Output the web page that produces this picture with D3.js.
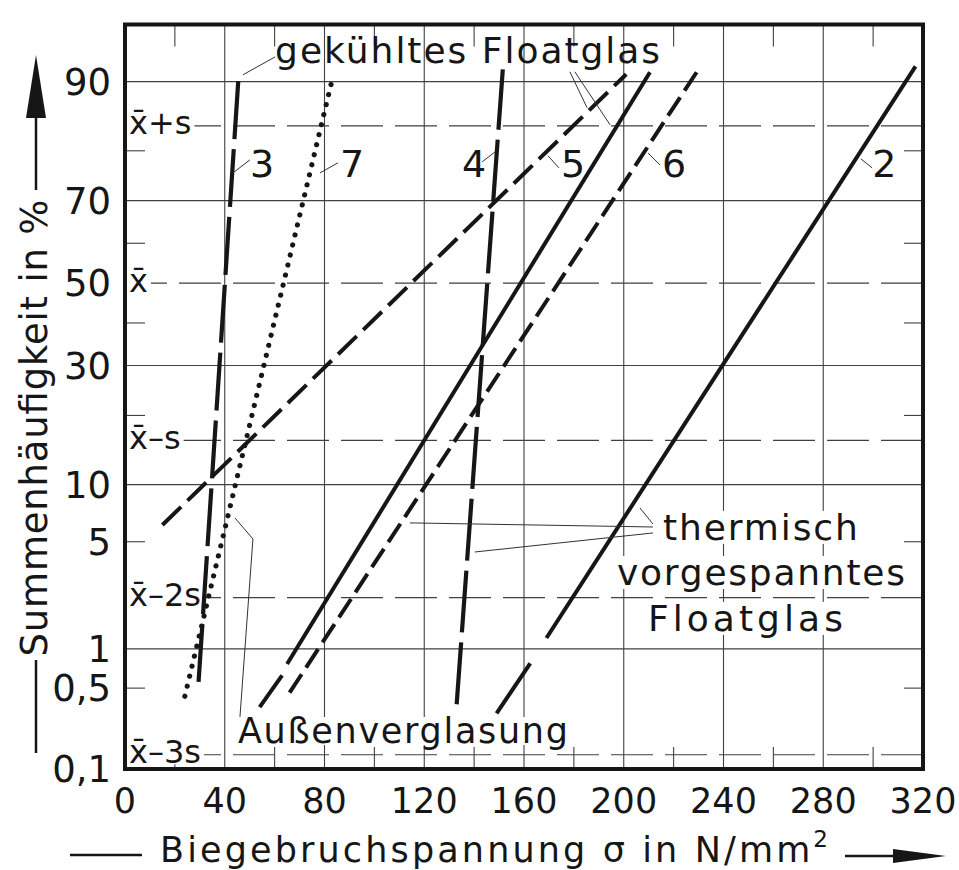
<!DOCTYPE html>
<html><head><meta charset="utf-8">
<script src="https://cdn.jsdelivr.net/npm/d3@7"></script>
<style>
html,body{margin:0;padding:0;background:#fff;}
svg{display:block;font-family:"DejaVu Sans",sans-serif;}
</style></head><body>
<svg id="chart" width="959" height="870"></svg>
<script>
// Bending strength of float glass on normal probability paper

// ---- axis data ----
const xTicks = [0, 40, 80, 120, 160, 200, 240, 280, 320];
const xMinorTicks = [20, 60, 100, 140, 180, 220, 260, 300];
const pctGridLines = [90, 70, 30, 10, 1];
const pctTickValues = [90, 70, 50, 30, 10, 5, 1, 0.5, 0.1];
const pctTickLabels = ["90", "70", "50", "30", "10", "5", "1", "0,5", "0,1"];
const pctMinorTicks = [80, 60, 40, 20, 5, 0.5];
const sigmaSteps = [1, 0, -1, -2, -3];
const sigmaLabels = ["x̄+s", "x̄", "x̄–s", "x̄–2s", "x̄–3s"];

// ---- series: segments of [σ in N/mm², cumulative frequency in %] ----
const curve1 = [[[54, 0.35], [63, 0.63]], [[65, 0.77], [210.5, 91.0]]];
const curve2 = [[[149, 0.31], [162.5, 0.78]], [[169, 1.2], [317, 91.6]]];
const curve3 = [[[29.5, 0.56], [45.5, 90.4]]];
const curve4 = [[[133, 0.37], [151.5, 91.3]]];
const curve5 = [[[15, 6.2], [201, 90.8]]];
const curve6 = [[[66, 0.46], [230.5, 91.5]]];
const curve7 = [[[24, 0.43], [83.5, 90.7]]];
const curveNames = ["1", "2", "3", "4", "5", "6", "7"];
const curveData = [curve1, curve2, curve3, curve4, curve5, curve6, curve7];

// line styles per curve
const curveStyle = {
  "1": {dash: null, w: 4},
  "2": {dash: null, w: 4},
  "3": {dash: "58 10", w: 4.2},
  "4": {dash: "62 10", w: 4.2},
  "5": {dash: "26 9", w: 4},
  "6": {dash: "22 8", w: 4},
  "7": {dash: "0.01 10.3", w: 5.2, cap: "round"}
};

// inverse standard normal CDF (Acklam)
function probit(p) {
  const a = [-3.969683028665376e+01, 2.209460984245205e+02, -2.759285104469687e+02, 1.383577518672690e+02, -3.066479806614716e+01, 2.506628277459239e+00];
  const b = [-5.447609879822406e+01, 1.615858494517808e+02, -1.556989798598866e+02, 6.680131188771972e+01, -1.328068155288572e+01];
  const c = [-7.784894002430293e-03, -3.223964580411365e-01, -2.400758277161838e+00, -2.549671324953608e+00, 4.374664141464968e+00, 2.938163982698783e+00];
  const d = [7.784695709041462e-03, 3.224671290700398e-01, 2.445134137142996e+00, 3.754408661907416e+00];
  const pl = 0.02425, ph = 1 - pl;
  let q, r;
  if (p < pl) { q = Math.sqrt(-2 * Math.log(p)); return (((((c[0]*q+c[1])*q+c[2])*q+c[3])*q+c[4])*q+c[5]) / ((((d[0]*q+d[1])*q+d[2])*q+d[3])*q+1); }
  if (p <= ph) { q = p - 0.5; r = q*q; return (((((a[0]*r+a[1])*r+a[2])*r+a[3])*r+a[4])*r+a[5])*q / (((((b[0]*r+b[1])*r+b[2])*r+b[3])*r+b[4])*r+1); }
  q = Math.sqrt(-2 * Math.log(1 - p));
  return -(((((c[0]*q+c[1])*q+c[2])*q+c[3])*q+c[4])*q+c[5]) / ((((d[0]*q+d[1])*q+d[2])*q+d[3])*q+1);
}

// ---- scales ----
const pL = 125, pR = 923, pT = 24.5, pB = 769;
const x = d3.scaleLinear().domain([0, 320]).range([pL, pR]);
const z = d3.scaleLinear().domain([probit(0.001), probit(0.95)]).range([pB, pT]); // in units of s
const y = p => z(probit(p / 100));

const ink = "#161616", gridInk = "#404040";
const svg = d3.select("#chart");
svg.append("rect").attr("width", 959).attr("height", 870).attr("fill", "#fff");

// ---- grid ----
const grid = svg.append("g").attr("stroke", gridInk).attr("stroke-width", 1.1);
grid.selectAll("line.v").data(xTicks.filter(v => v > 0 && v < 320)).join("line").attr("class", "v")
  .attr("x1", d => x(d)).attr("x2", d => x(d)).attr("y1", pT).attr("y2", pB);
grid.selectAll("line.h").data(pctGridLines).join("line").attr("class", "h")
  .attr("x1", pL).attr("x2", pR).attr("y1", d => y(d)).attr("y2", d => y(d));
grid.selectAll("line.s").data(sigmaSteps).join("line").attr("class", "s")
  .attr("x1", pL).attr("x2", pR).attr("y1", d => z(d)).attr("y2", d => z(d))
  .attr("stroke-dasharray", "42 12");
// minor ticks
grid.selectAll("line.tt").data(xMinorTicks).join("line").attr("class", "tt")
  .attr("x1", d => x(d)).attr("x2", d => x(d)).attr("y1", pT).attr("y2", pT + 22);
grid.selectAll("line.tb").data(xMinorTicks).join("line").attr("class", "tb")
  .attr("x1", d => x(d)).attr("x2", d => x(d)).attr("y1", pB - 22).attr("y2", pB);
grid.selectAll("line.tl").data(pctMinorTicks).join("line").attr("class", "tl")
  .attr("x1", pL).attr("x2", pL + 20).attr("y1", d => y(d)).attr("y2", d => y(d));
grid.selectAll("line.tr").data(pctMinorTicks).join("line").attr("class", "tr")
  .attr("x1", pR - 19).attr("x2", pR).attr("y1", d => y(d)).attr("y2", d => y(d));

// text helper with optional white backing box
function label(parent, txt, px, py, opts = {}) {
  const t = parent.append("text").attr("x", px).attr("y", py).text(txt)
    .attr("fill", ink).attr("font-size", opts.size || 34)
    .attr("text-anchor", opts.anchor || "start");
  if (opts.len) t.attr("textLength", opts.len).attr("lengthAdjust", opts.adjust || "spacing");
  if (opts.box) {
    const bb = t.node().getBBox();
    const pad = opts.pad || [2, 0];
    parent.insert("rect", () => t.node())
      .attr("x", bb.x - pad[0]).attr("y", bb.y + pad[1]).attr("width", bb.width + 2 * pad[0])
      .attr("height", bb.height - 2 * pad[1]).attr("fill", "#fff");
  }
  return t;
}

// ---- sigma labels inside plot ----
const sigLayer = svg.append("g");
sigmaSteps.forEach((k, i) => {
  label(sigLayer, sigmaLabels[i], pL + 4, z(k) + 8.5, {size: 32, box: true, pad: [3, 7]});
});

// ---- annotation boxes (drawn under the curves) ----
const annoBack = svg.append("g");
// anchors given as [σ, s-units]
label(annoBack, "thermisch", x(215.7), z(-1.633), {size: 36, len: 195, box: true, pad: [4, 4]});
label(annoBack, "vorgespanntes", x(197.3), z(-1.92), {size: 36, len: 288, box: true, pad: [4, 4]});
label(annoBack, "Floatglas", x(209.7), z(-2.212), {size: 36, len: 195, box: true, pad: [4, 4]});
label(annoBack, "Außenverglasung", x(45.3), z(-2.925), {size: 35, len: 330, box: true, pad: [3, 6]});

// ---- curves ----
const line = d3.line().x(d => x(d[0])).y(d => y(d[1]));
const curves = svg.append("g").attr("fill", "none").attr("stroke", ink);
curveNames.forEach((name, i) => {
  const st = curveStyle[name];
  curves.selectAll(null).data(curveData[i]).join("path")
    .attr("d", line)
    .attr("stroke-width", st.w)
    .attr("stroke-dasharray", st.dash)
    .attr("stroke-linecap", st.cap || "butt");
});

// ---- leader lines, anchored in [σ, s-units] ----
const leaders = [
  [[43.3, 0.701], [50.1, 0.784]],
  [[78.2, 0.701], [85.4, 0.765]],
  [[143.2, 0.771], [148.4, 0.835]],
  [[169.6, 0.810], [174.0, 0.733]],
  [[209.7, 0.828], [214.5, 0.752]],
  [[295.1, 0.790], [299.6, 0.733]],
  [[47.3, 1.325], [60.2, 1.439]],
  [[178.4, 1.344], [185.3, 1.115]],
  [[180.4, 1.344], [194.5, 1.007]],
  [[211.7, -1.532], [206.5, -1.430]],
  [[211.7, -1.551], [114.3, -1.525]],
  [[211.7, -1.589], [140.3, -1.710]],
  [[46.1, -2.759], [51.3, -1.627], [44.1, -1.494]]
];
const leaderLine = d3.line().x(d => x(d[0])).y(d => z(d[1]));
svg.append("g").attr("fill", "none").attr("stroke", "#333").attr("stroke-width", 1)
  .selectAll("path").data(leaders).join("path").attr("d", leaderLine);

// ---- curve numbers ----
const nums = svg.append("g");
[["3", 50.1], ["7", 86.2], ["4", 135.1], ["5", 174.8], ["6", 215.3], ["2", 299.6]].forEach(([t, s]) => {
  label(nums, t, x(s), z(0.676), {size: 38});
});
label(nums, "gekühltes Floatglas", x(60.2), z(1.401), {size: 36, len: 385});

// ---- frame ----
svg.append("rect").attr("x", pL).attr("y", pT).attr("width", pR - pL).attr("height", pB - pT)
  .attr("fill", "none").attr("stroke", ink).attr("stroke-width", 4);

// ---- tick labels ----
const tl = svg.append("g");
pctTickValues.forEach((p, i) => {
  label(tl, pctTickLabels[i], 111, y(p) + 13, {size: 37, anchor: "end"});
});
xTicks.forEach(v => {
  label(tl, String(v), x(v), 813, {size: 35, anchor: "middle"});
});

// ---- axis titles ----
const yt = svg.append("g").attr("transform", "translate(47,428) rotate(-90)");
yt.append("text").attr("text-anchor", "middle").attr("font-size", 37).attr("fill", ink)
  .attr("textLength", 457).attr("lengthAdjust", "spacing").text("Summenhäufigkeit in %");
svg.append("line").attr("x1", 36).attr("x2", 36).attr("y1", 660).attr("y2", 753).attr("stroke", ink).attr("stroke-width", 2.5);
svg.append("line").attr("x1", 36).attr("x2", 36).attr("y1", 190).attr("y2", 110).attr("stroke", ink).attr("stroke-width", 2.5);
svg.append("path").attr("d", "M36,55 L46,118 L26,118 Z").attr("fill", ink);

const xt = svg.append("text").attr("x", 160).attr("y", 862).attr("font-size", 35).attr("fill", ink)
  .attr("textLength", 668).attr("lengthAdjust", "spacing");
xt.append("tspan").text("Biegebruchspannung σ in N/mm");
xt.append("tspan").attr("font-size", 23).attr("dy", -15).text("2");
svg.append("line").attr("x1", 70).attr("x2", 142).attr("y1", 855).attr("y2", 855).attr("stroke", ink).attr("stroke-width", 2.5);
svg.append("line").attr("x1", 845).attr("x2", 900).attr("y1", 856).attr("y2", 856).attr("stroke", ink).attr("stroke-width", 2.5);
svg.append("path").attr("d", "M946,856 L893,849 L893,863 Z").attr("fill", ink);
</script>
</body></html>
